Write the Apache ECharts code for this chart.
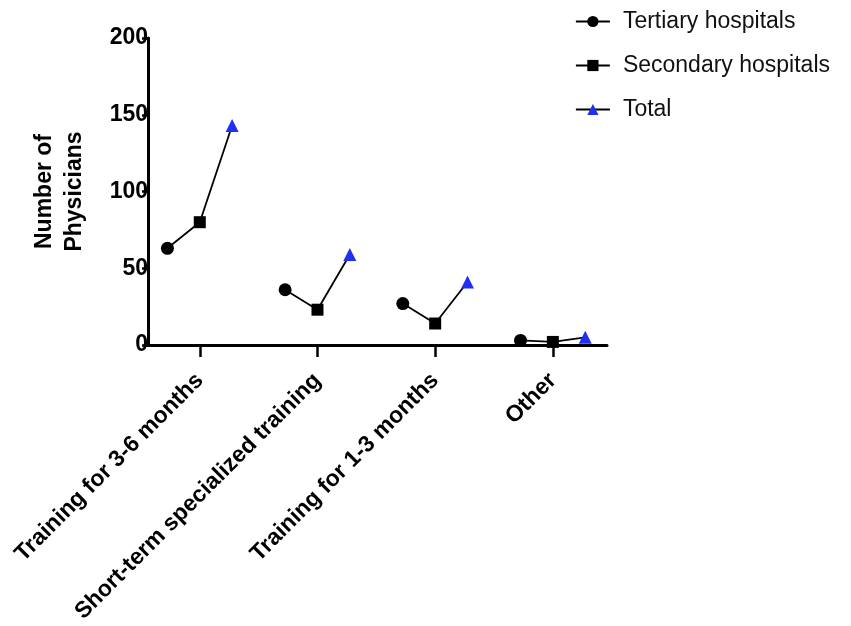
<!DOCTYPE html>
<html>
<head>
<meta charset="utf-8">
<script src="https://cdn.jsdelivr.net/npm/echarts@6/dist/echarts.min.js"></script>
<style>
  html, body { margin: 0; padding: 0; background: #fff; }
  #chart { width: 851px; height: 626px; }
</style>
</head>
<body>
<div id="chart"></div>
<script>
var categories = ['Training for 3-6 months', 'Short-term specialized training', 'Training for 1-3 months', 'Other'];
var tertiary = [63, 36, 27, 3];
var secondary = [80, 23, 14, 2];
var total = [143, 59, 41, 5];
var yTicks = [0, 50, 100, 150, 200];

var offset = 0.275; // spacing of the three points around each category
var font = '"Liberation Sans", Arial, Helvetica, sans-serif';

function pts(values, shift) {
    return values.map(function (v, i) { return [i + shift, v]; });
}

var series = [];
// connector lines within each category
categories.forEach(function (c, i) {
    series.push({
        type: 'line',
        silent: true,
        symbol: 'none',
        z: 1,
        lineStyle: { color: '#000', width: 1.8 },
        data: [[i - offset, tertiary[i]], [i, secondary[i]], [i + offset, total[i]]]
    });
});

series.push({
    name: 'Tertiary hospitals',
    type: 'line',
    symbol: 'circle',
    symbolSize: 13,
    z: 3,
    itemStyle: { color: '#000' },
    lineStyle: { width: 0 },
    data: pts(tertiary, -offset)
});
series.push({
    name: 'Secondary hospitals',
    type: 'line',
    symbol: 'rect',
    symbolSize: 12,
    z: 3,
    itemStyle: { color: '#000' },
    lineStyle: { width: 0 },
    data: pts(secondary, 0)
});
series.push({
    name: 'Total',
    type: 'line',
    symbol: 'triangle',
    symbolSize: 13,
    z: 3,
    itemStyle: { color: '#1f30f0' },
    lineStyle: { width: 0 },
    data: pts(total, offset)
});

var chart = echarts.init(document.getElementById('chart'));
chart.setOption({
    animation: false,
    backgroundColor: '#fff',
    textStyle: { fontFamily: font },
    legend: {
        data: ['Tertiary hospitals', 'Secondary hospitals', 'Total'],
        orient: 'vertical',
        left: 570,
        top: 5,
        itemWidth: 34,
        itemHeight: 14,
        itemGap: 21,
        lineStyle: { color: '#000', width: 1.8 },
        textStyle: { fontSize: 23, color: '#111', fontFamily: font, padding: [0, 0, 0, 8] }
    },
    grid: { left: 148, right: 244, top: 38, bottom: 281, containLabel: false },
    xAxis: {
        type: 'value',
        min: -0.44,
        max: 3.46,
        splitLine: { show: false },
        axisLine: { show: true, onZero: false, lineStyle: { color: '#000', width: 3 } },
        axisTick: { show: true, customValues: [0, 1, 2, 3], length: 12, lineStyle: { color: '#000', width: 2.5 } },
        axisLabel: {
            customValues: [0, 1, 2, 3],
            rotate: 45,
            margin: 32,
            fontSize: 23,
            fontWeight: 'bold',
            color: '#000',
            fontFamily: font,
            formatter: function (v) { return categories[Math.round(v)]; }
        }
    },
    yAxis: {
        type: 'value',
        min: 0,
        max: 200,
        interval: 50,
        name: 'Number of\nPhysicians',
        nameLocation: 'middle',
        nameGap: 58,
        nameTextStyle: { fontSize: 23, fontWeight: 'bold', color: '#000', fontFamily: font, lineHeight: 30 },
        splitLine: { show: false },
        axisLine: { show: true, onZero: false, lineStyle: { color: '#000', width: 3 } },
        axisTick: { show: true, length: 6, lineStyle: { color: '#000', width: 2.5 } },
        axisLabel: {
            margin: 0,
            fontSize: 23,
            fontWeight: 'bold',
            color: '#000',
            fontFamily: font,
            formatter: function (v) { return yTicks.indexOf(v) >= 0 ? String(v) : ''; }
        }
    },
    series: series
});
</script>
</body>
</html>
